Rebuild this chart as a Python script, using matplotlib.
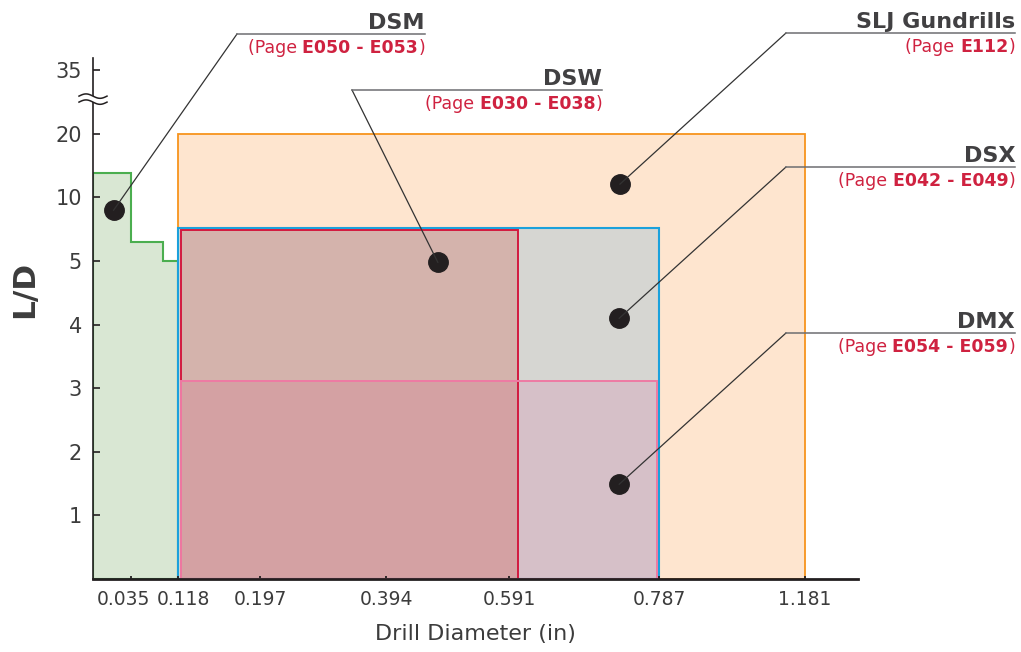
import numpy as np
import matplotlib
matplotlib.use('Agg')
import matplotlib.pyplot as plt
from matplotlib.patches import Rectangle, Polygon
from matplotlib.lines import Line2D
from matplotlib.transforms import IdentityTransform, ScaledTranslation
from matplotlib.offsetbox import TextArea, HPacker, AnnotationBbox

# tick values of the two (uneven) axes
x_ticks = [0.035, 0.118, 0.197, 0.394, 0.591, 0.787, 1.181]
x_tick_labels = ['0.035', '0.118', '0.197', '0.394', '0.591', '0.787', '1.181']
y_ticks = [1, 2, 3, 4, 5, 10, 20, 35]
y_tick_labels = ['1', '2', '3', '4', '5', '10', '20', '35']

# piecewise scale of the original chart (value -> axis units)
x_scale_in = [0, 0.035, 0.118, 0.197, 0.394, 0.591, 0.787, 1.181]
x_scale_u = [0, 38, 85, 167, 293, 416, 566, 712]
y_scale_ld = [0, 1, 2, 3, 4, 5, 10, 20, 35]
y_scale_u = [0, 1, 2, 3, 4, 5, 6, 7, 8]

# DSM step outline (diameter edges, L/D per step)
dsm_edges = [0, 0.035, 0.0915, 0.118]
dsm_ld = [13.8, 6.5, 5.0]

# rectangular ranges: (min dia, max dia, max L/D)
slj_range = [0.118, 1.181, 20]
dsx_range = [0.118, 0.787, 7.6]
dmx_range = [0.121, 0.784, 3.11]
dsw_range = [0.121, 0.603, 7.45]

# callouts
names = ['DSM', 'DSW', 'SLJ Gundrills', 'DSX', 'DMX']
pages = ['E050 - E053', 'E030 - E038', 'E112', 'E042 - E049', 'E054 - E059']
dot_d = [0.019, 0.477, 0.736, 0.735, 0.735]
dot_ld = [9.0, 4.98, 12.1, 4.1, 1.49]

# callout layout in figure pixels (from top)
label_right = [425, 602, 1015, 1015, 1015]
elbow_x = [237, 352, 786, 786, 786]
line_y = [34, 90, 33, 167, 333]


def piecewise(src, dst):
    src = np.asarray(src, float)
    dst = np.asarray(dst, float)
    def f(v):
        v = np.asarray(v, float)
        out = np.interp(v, src, dst)
        lo_slope = (dst[1] - dst[0]) / (src[1] - src[0])
        hi_slope = (dst[-1] - dst[-2]) / (src[-1] - src[-2])
        out = np.where(v < src[0], dst[0] + (v - src[0]) * lo_slope, out)
        out = np.where(v > src[-1], dst[-1] + (v - src[-1]) * hi_slope, out)
        return out
    return f


W, H = 1021, 652
fig = plt.figure(figsize=(W / 100, H / 100), dpi=100)
ax = fig.add_axes([93 / W, (H - 579) / H, 765 / W, 521 / H])

ax.set_xscale('function', functions=(piecewise(x_scale_in, x_scale_u),
                                     piecewise(x_scale_u, x_scale_in)))
ax.set_yscale('function', functions=(piecewise(y_scale_ld, y_scale_u),
                                     piecewise(y_scale_u, y_scale_ld)))
ax.set_xlim(0, 1.324)
ax.set_ylim(0, 37.9)

ink = '#231f20'
txt = '#414042'
red = '#cf2240'

# SLJ gundrills
ax.add_patch(Rectangle((slj_range[0], 0), slj_range[1] - slj_range[0], slj_range[2],
                       facecolor='#fee5cf', edgecolor='#f7941d', lw=1.3, zorder=1))

# DSM steps
verts = [(dsm_edges[0], 0)]
for i, h in enumerate(dsm_ld):
    verts.append((dsm_edges[i], h))
    verts.append((dsm_edges[i + 1], h))
verts.append((dsm_edges[-1], 0))
ax.add_patch(Polygon(verts, closed=True, facecolor='#d9e7d3', edgecolor='#4bae4f',
                     lw=1.5, zorder=1.2))

# DSX
ax.add_patch(Rectangle((dsx_range[0], 0), dsx_range[1] - dsx_range[0], dsx_range[2],
                       facecolor='#d6d6d2', edgecolor='#1ba1dc', lw=1.5, zorder=1.3))
# DMX / DSW faces (translucent so the overlap darkens)
ax.add_patch(Rectangle((dmx_range[0], 0), dmx_range[1] - dmx_range[0], dmx_range[2],
                       facecolor=(214 / 255, 104 / 255, 160 / 255, 0.2), edgecolor='none', zorder=1.4))
ax.add_patch(Rectangle((dsw_range[0], 0), dsw_range[1] - dsw_range[0], dsw_range[2],
                       facecolor=(205 / 255, 22 / 255, 0, 0.18), edgecolor='none', zorder=1.5))
# edges
ax.add_patch(Rectangle((dsw_range[0], 0), dsw_range[1] - dsw_range[0], dsw_range[2],
                       facecolor='none', edgecolor='#d2193f', lw=1.4, zorder=1.6))
ax.add_patch(Rectangle((dmx_range[0], 0), dmx_range[1] - dmx_range[0], dmx_range[2],
                       facecolor='none', edgecolor='#ee7aa3', lw=1.4, zorder=1.7))

# dots
ax.plot(dot_d, dot_ld, 'o', color=ink, ms=14, zorder=5, clip_on=False)

# axes styling
for s in ['top', 'right']:
    ax.spines[s].set_visible(False)
ax.spines['left'].set_linewidth(1.2)
ax.spines['bottom'].set_linewidth(2)
ax.spines['left'].set_color(ink)
ax.spines['bottom'].set_color(ink)

ax.set_xticks(x_ticks, x_tick_labels)
ax.set_yticks(y_ticks, y_tick_labels)
ax.minorticks_off()
ax.tick_params(axis='x', direction='in', length=2.5, width=1.3, color=ink,
               labelsize=13.5, labelcolor='#3c3c3c', pad=8)
ax.tick_params(axis='y', direction='in', length=5, width=1.2, color=ink,
               labelsize=15, labelcolor='#3c3c3c', pad=8)

# nudge the two crowded labels apart like the original
shifts = {0: -8, 1: 5}
for i, lab in enumerate(ax.get_xticklabels()):
    if i in shifts:
        lab.set_transform(lab.get_transform() +
                          ScaledTranslation(shifts[i] / 100, 0, fig.dpi_scale_trans))

ax.set_xlabel('Drill Diameter (in)', fontsize=16, color='#3c3c3c')
ax.xaxis.set_label_coords(0.5, -0.086)
ax.set_ylabel('L/D', fontsize=22.5, fontweight='bold', color='#3c3c3c', va='center')
ax.yaxis.set_label_coords(-0.089, 0.555)

# axis break between 20 and 35
bx, by = ax.transData.transform((0, 28.2))
t = np.linspace(0, 1, 40)
xs = bx - 14 + 28 * t
wave = 2.2 * np.sin(2 * np.pi * t)
upper = by + 3 + wave
lower = by - 3 + wave
fig.add_artist(Polygon(np.column_stack([np.r_[xs, xs[::-1]], np.r_[upper, lower[::-1]]]),
                       closed=True, facecolor='white', edgecolor='none',
                       transform=IdentityTransform(), zorder=6))
for yy in (upper, lower):
    fig.add_artist(Line2D(xs, yy, color=ink, lw=1.1, transform=IdentityTransform(), zorder=7))

# callouts
for i in range(len(names)):
    dx, dy = ax.transData.transform((dot_d[i], dot_ld[i]))
    ly = H - line_y[i]
    fig.add_artist(Line2D([dx, elbow_x[i]], [dy, ly], color='#333333', lw=0.9,
                          transform=IdentityTransform(), zorder=4))
    fig.add_artist(Line2D([elbow_x[i], label_right[i]], [ly, ly], color='#6d6e71', lw=1.1,
                          transform=IdentityTransform(), zorder=4))
    fig.text(label_right[i] / W, (ly + 5) / H, names[i], ha='right', va='baseline',
             fontsize=16, fontweight='bold', color=txt)
    box = HPacker(children=[
        TextArea('(Page ', textprops=dict(color=red, fontsize=12.5)),
        TextArea(pages[i], textprops=dict(color=red, fontsize=12.5, fontweight='bold')),
        TextArea(')', textprops=dict(color=red, fontsize=12.5)),
    ], align='baseline', pad=0, sep=0)
    ab = AnnotationBbox(box, (label_right[i], ly - 14), xycoords='figure pixels',
                        box_alignment=(1, 0.5), frameon=False, pad=0, annotation_clip=False)
    fig.add_artist(ab)

fig.savefig('out.png', dpi=100)
